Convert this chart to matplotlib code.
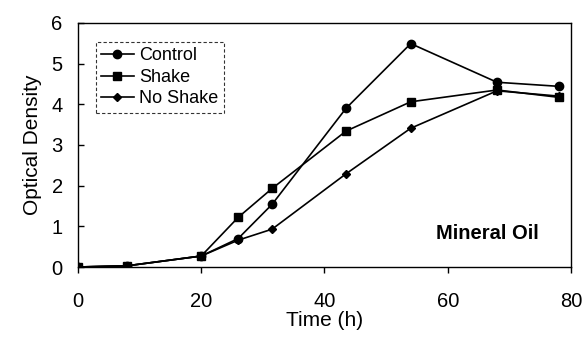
import numpy as np
import matplotlib.pyplot as plt

plt.rcParams['font.family'] = ['Liberation Sans', 'DejaVu Sans']

# data
time = [0, 8, 20, 26, 31.5, 43.5, 54, 68, 78]
control = [0.0, 0.03, 0.27, 0.70, 1.54, 3.90, 5.49, 4.54, 4.44]
shake = [0.0, 0.03, 0.27, 1.22, 1.93, 3.34, 4.06, 4.35, 4.17]
no_shake = [0.0, 0.03, 0.27, 0.66, 0.93, 2.29, 3.41, 4.33, 4.20]

fig = plt.figure(figsize=(5.82, 3.41), dpi=100)
ax = fig.add_axes([0.134, 0.217, 0.847, 0.716])

ax.plot(time, control, color='black', lw=1.2, marker='o', ms=6, label='Control')
ax.plot(time, shake, color='black', lw=1.2, marker='s', ms=6, label='Shake')
ax.plot(time, no_shake, color='black', lw=1.2, marker='D', ms=4, label='No Shake')

ax.set_xlim(0, 80)
ax.set_ylim(0, 6)
ax.set_xticks([0, 20, 40, 60, 80])
ax.set_yticks([0, 1, 2, 3, 4, 5, 6])
ax.tick_params(axis='x', direction='out', length=4, width=1, labelsize=14.5, pad=14)
ax.tick_params(axis='y', direction='in', length=4, width=1, labelsize=14.5, pad=11)
for s in ax.spines.values():
    s.set_linewidth(1.0)

ax.set_xlabel('Time (h)', fontsize=15, labelpad=0)
ax.set_ylabel('Optical Density', fontsize=15, labelpad=7)

leg = ax.legend(loc='upper left', bbox_to_anchor=(0.036, 0.922), fontsize=13,
                frameon=True, fancybox=False, handlelength=1.8, handletextpad=0.3,
                borderpad=0.3, labelspacing=0.25, borderaxespad=0)
leg.get_frame().set_edgecolor('black')
leg.get_frame().set_linewidth(0.8)
leg.get_frame().set_linestyle((0, (3, 2)))

ax.text(0.935, 0.1, 'Mineral Oil', transform=ax.transAxes, ha='right', va='bottom',
        fontsize=14.5, fontweight='bold')

fig.savefig('out.png', dpi=100)
